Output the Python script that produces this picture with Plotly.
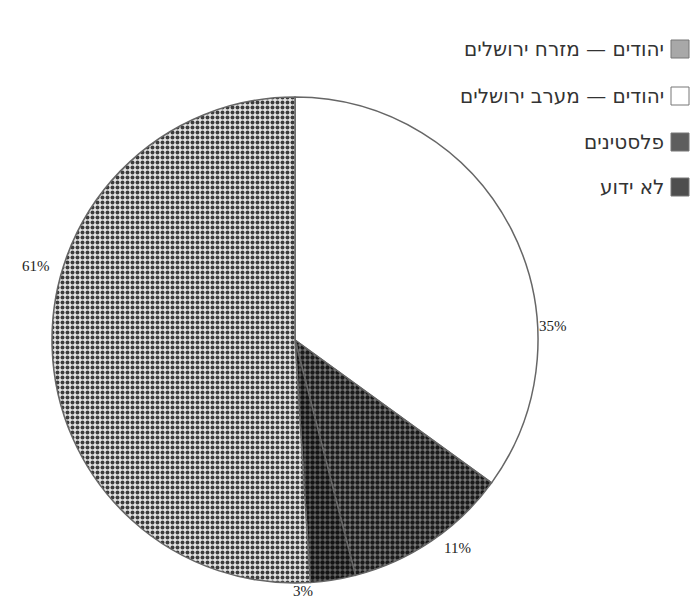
import plotly.graph_objects as go

# Categories (in drawing order, clockwise from 12 o'clock)
categories = ["יהודים — מערב ירושלים", "פלסטינים", "לא ידוע", "יהודים — מזרח ירושלים"]
# Slice sizes as drawn in the picture
slice_sizes = [35, 11, 3, 51]
# Printed percentage labels
pct_labels = ["35%", "11%", "3%", "61%"]

# Legend order (top to bottom) as indices into categories
legend_order = [3, 0, 1, 2]

# Styles
fg_colors = ["#ffffff", "#1a1a1a", "#141414", "#3c3c3c"]
bg_colors = ["#ffffff", "#7a7a7a", "#666666", "#e4e4e4"]
shapes_pat = ["", ".", ".", "."]
solidity = [0.2, 0.6, 0.62, 0.5]
swatch_fill = ["#ffffff", "#5e5e5e", "#4e4e4e", "#a8a8a8"]

fig = go.Figure()
fig.add_trace(go.Pie(
    labels=categories,
    values=slice_sizes,
    sort=False,
    direction="clockwise",
    rotation=0,
    textinfo="none",
    hoverinfo="label+percent",
    showlegend=False,
    domain=dict(x=[52/696, 538/696], y=[1-583/602, 1-97/602]),
    marker=dict(
        colors=bg_colors,
        line=dict(color="#666666", width=1.5),
        pattern=dict(shape=shapes_pat, fgcolor=fg_colors, bgcolor=bg_colors,
                     size=5, solidity=solidity),
    ),
))

# Percentage label positions (pixels)
label_pos = [(553, 326), (457, 548), (303, 591), (36, 266)]
W, H = 696, 602
annotations = []
for txt, (px, py) in zip(pct_labels, label_pos):
    annotations.append(dict(x=px/W, y=1-py/H, xref="paper", yref="paper", text=txt,
                            showarrow=False, xanchor="center", yanchor="middle",
                            font=dict(family="Liberation Serif", size=15, color="#222")))

shapes = []
row_y = [49, 96, 142, 187]
for k, idx in enumerate(legend_order):
    y = row_y[k]
    annotations.append(dict(x=666/W, y=1-y/H, xref="paper", yref="paper", text=categories[idx],
                            showarrow=False, xanchor="right", yanchor="middle",
                            font=dict(family="DejaVu Sans", size=20, color="#333")))
    shapes.append(dict(type="rect", xref="paper", yref="paper",
                       x0=671/W, x1=689/W, y0=1-(y+9)/H, y1=1-(y-9)/H,
                       fillcolor=swatch_fill[idx], line=dict(color="#777", width=1)))

fig.update_layout(
    width=W, height=H,
    margin=dict(l=0, r=0, t=0, b=0),
    paper_bgcolor="white", plot_bgcolor="white",
    annotations=annotations, shapes=shapes,
)
fig.write_html("out.html")
